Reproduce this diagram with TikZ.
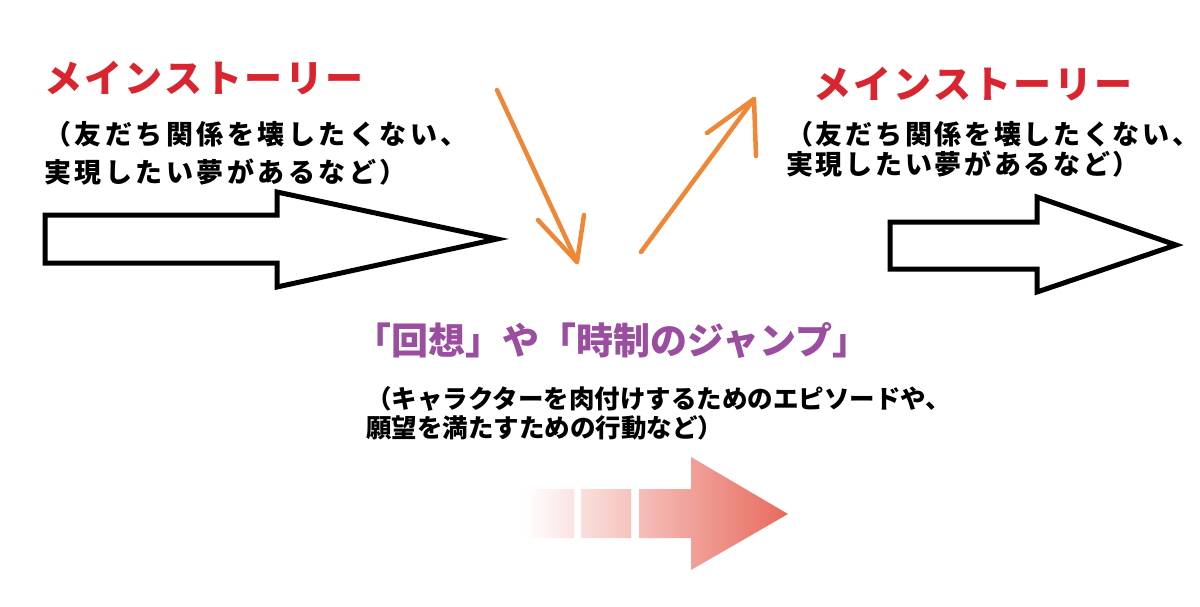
\documentclass[tikz,border=0pt]{standalone}
\usepackage{fontspec}
\newfontfamily\jpt[LetterSpace=6]{Noto Sans CJK JP}
\newfontfamily\jps[LetterSpace=13]{Noto Sans CJK JP}
\newfontfamily\jpr[LetterSpace=10]{Noto Sans CJK JP}
\newfontfamily\jpn{Noto Sans CJK JP}
\definecolor{mainred}{RGB}{218,37,48}
\definecolor{purp}{RGB}{155,77,160}
\definecolor{orng}{RGB}{240,135,55}
\definecolor{arrred}{RGB}{232,106,93}
\tikzset{
  title/.style={anchor=west,inner sep=0pt,text=mainred,font=\jpt\bfseries\fontsize{38}{40}\selectfont},
  sub/.style={anchor=west,inner sep=0pt,text=black,font=\jps\bfseries\fontsize{27}{30}\selectfont},
  subr/.style={anchor=west,inner sep=0pt,text=black,font=\jpr\bfseries\fontsize{27}{30}\selectfont},
  ptitle/.style={anchor=west,inner sep=0pt,text=purp,font=\jpn\bfseries\fontsize{37}{40}\selectfont},
  psub/.style={anchor=west,inner sep=0pt,text=black,font=\jpn\bfseries\fontsize{25.5}{28}\selectfont},
  blockarrow/.style={draw=black,line width=5pt,fill=white,line join=miter},
  orangearrow/.style={draw=orng,line width=4.5pt,line cap=round,line join=round},
}
\begin{document}
\begin{tikzpicture}[x=1pt,y=-1pt]
\useasboundingbox (0,0) rectangle (1200,606);
% texts
\node[title] (t1) at (44,78) {メインストーリー};
\node[sub] (t1a) at (44,134) {（友だち関係を壊したくない、};
\node[sub] (t1b) at (44,172) {実現したい夢があるなど）};
\node[title] (t2) at (813,84) {メインストーリー};
\node[subr] (t2a) at (786,134) {（友だち関係を壊したくない、};
\node[subr] (t2b) at (786,164) {実現したい夢があるなど）};
\node[ptitle] (t3) at (354,341) {「回想」や「時制のジャンプ」};
\node[psub] (t3a) at (366,399) {（キャラクターを肉付けするためのエピソードや、};
\node[psub] (t3b) at (366,428) {願望を満たすための行動など）};
% black block arrows
\draw[blockarrow] (45,215) -- (277,215) -- (277,192) -- (497,239) -- (277,287) -- (277,263) -- (45,263) -- cycle;
\draw[blockarrow] (890,222) -- (1037,222) -- (1037,197) -- (1176,245) -- (1037,292) -- (1037,269) -- (890,269) -- cycle;
% orange arrows
\coordinate (a1s) at (497,90);
\coordinate (a1e) at (577,262);
\coordinate (a1l) at (538,220);
\coordinate (a1r) at (584,215);
\draw[orangearrow] (a1s) -- (a1e);
\draw[orangearrow] (a1l) -- (a1e) -- (a1r);
\coordinate (a2s) at (641,252);
\coordinate (a2e) at (754,99);
\coordinate (a2l) at (707,133);
\coordinate (a2r) at (756,156);
\draw[orangearrow] (a2s) -- (a2e);
\draw[orangearrow] (a2l) -- (a2e) -- (a2r);
% gradient arrow
\shade[left color=white,right color=arrred]
  (525,489) rectangle (574,538)
  (581,489) rectangle (631,538)
  (639,489) -- (691,489) -- (691,457) -- (788,514) -- (691,570) -- (691,538) -- (639,538) -- cycle;
\end{tikzpicture}
\end{document}
